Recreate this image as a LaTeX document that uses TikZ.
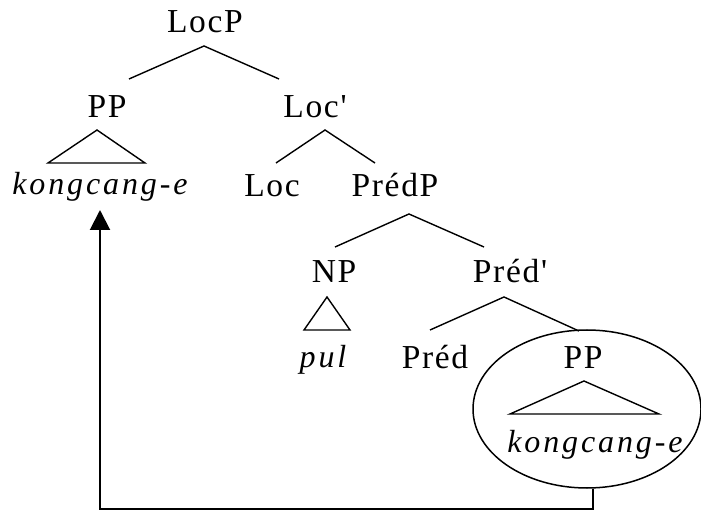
\documentclass[tikz,border=0pt]{standalone}
\usepackage{fontspec}
\setmainfont{Liberation Serif}[LetterSpace=5,Ligatures=TeXOff,ItalicFeatures={LetterSpace=9}]
\usetikzlibrary{arrows.meta,shapes.geometric}
\tikzset{
  lab/.style={anchor=base,inner sep=0pt,font=\fontsize{33.5}{33.5}\selectfont},
  ital/.style={lab,font=\fontsize{32}{32}\selectfont\itshape},
  br/.style={line width=1.4pt},
  circ/.style={draw,ellipse,line width=1.5pt,inner sep=0pt},
  mv/.style={line width=2pt,-{Triangle[width=20pt,length=20pt]}}
}
\begin{document}
\begin{tikzpicture}[x=1pt,y=-1pt]
\useasboundingbox (0,0) rectangle (701,510);
\node[lab] (LocP) at (205,33) {LocP};
\node[lab] (PPa) at (107,118) {PP};
\node[lab] (Locp) at (315,118) {Loc'};
\node[ital] (kon1) at (100,195) {kongcang-e};
\node[lab] (Loc) at (272,197) {Loc};
\node[lab] (PredP) at (395,197) {PrédP};
\node[lab] (NP) at (334,283) {NP};
\node[lab] (Predp) at (510,283) {Préd'};
\node[ital] (pul) at (323,367) {pul};
\node[lab] (Pred) at (435,368) {Préd};
\node[lab] (PPb) at (583,368) {PP};
\node[ital] (kon2) at (595,452) {kongcang-e};
\node[circ,minimum width=228pt,minimum height=158pt] (ell) at (587,409) {};
% LocP
\draw[br] ([shift={(22,-39)}]PPa.base) -- ([shift={(-1,13)}]LocP.base) -- ([shift={(-36,-39)}]Locp.base);
% PP triangle
\draw[br] ([shift={(-10,12)}]PPa.base) -- ([shift={(-52,-32)}]kon1.base) -- ([shift={(45,-32)}]kon1.base) -- cycle;
% Loc'
\draw[br] ([shift={(4,-34)}]Loc.base) -- ([shift={(10,12)}]Locp.base) -- ([shift={(-20,-34)}]PredP.base);
% PredP
\draw[br] ([shift={(1,-36)}]NP.base) -- ([shift={(14,17)}]PredP.base) -- ([shift={(-26,-36)}]Predp.base);
% NP triangle
\draw[br] ([shift={(-7,14)}]NP.base) -- ([shift={(-19,-37)}]pul.base) -- ([shift={(27,-37)}]pul.base) -- cycle;
% Pred'
\draw[br] ([shift={(-5,-38)}]Pred.base) -- ([shift={(-6,14)}]Predp.base) -- ([shift={(-4,-37)}]PPb.base);
% PP triangle right
\draw[br] ([shift={(1,13)}]PPb.base) -- ([shift={(-85,-38)}]kon2.base) -- ([shift={(64,-38)}]kon2.base) -- cycle;
% movement arrow
\draw[mv] ([xshift=6pt]ell.south) -- ++(0,20) -| ([shift={(0,15)}]kon1.base);
\end{tikzpicture}
\end{document}
